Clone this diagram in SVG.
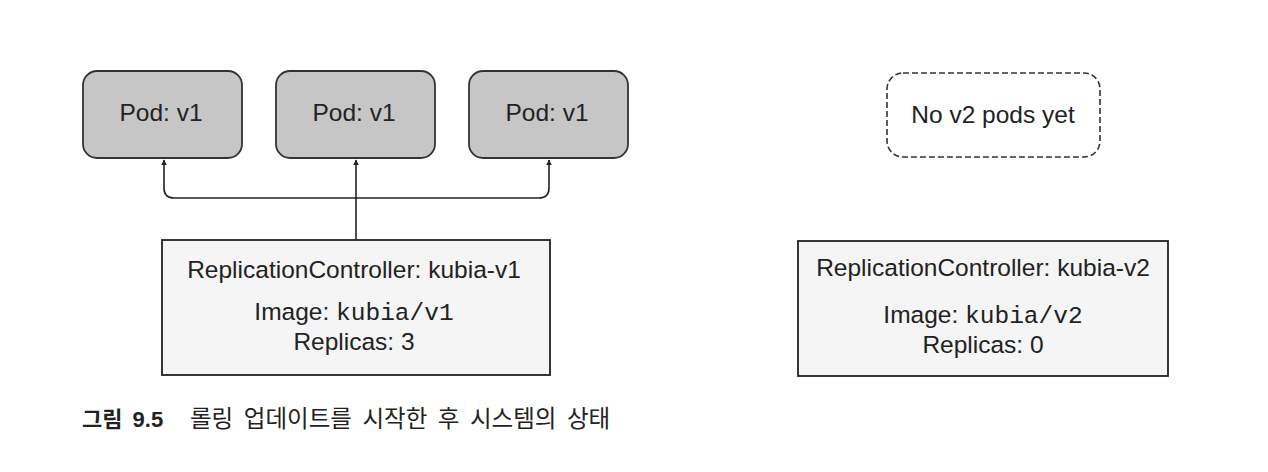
<svg xmlns="http://www.w3.org/2000/svg" width="1268" height="472" viewBox="0 0 1268 472">
<style>
.pod{fill:#c6c6c6;stroke:#333;stroke-width:1.8}
.dash{fill:#fff;stroke:#333;stroke-width:1.6;stroke-dasharray:6 3}
.rc{fill:#f5f5f5;stroke:#222;stroke-width:1.8}
.t{font-family:"Liberation Sans",Arial,sans-serif;font-size:24.5px;fill:#222;text-anchor:middle}
.m{font-family:"Liberation Mono","Courier New",monospace;font-size:24.5px}
.conn{fill:none;stroke:#222;stroke-width:1.6}
.cap{font-family:"Liberation Sans","Noto Sans CJK KR",sans-serif;font-size:23.5px;fill:#222;word-spacing:4px}
</style>
<defs>
<marker id="ah" viewBox="0 0 10 10" refX="9" refY="5" markerWidth="6" markerHeight="9" orient="auto" markerUnits="userSpaceOnUse">
<path d="M0,0 L10,5 L0,10 z" fill="#222"/>
</marker>
</defs>
<rect width="1268" height="472" fill="#fff"/>
<g id="pod1"><rect class="pod" x="83" y="71" width="159" height="87" rx="14"/><text class="t" x="161" y="121">Pod: v1</text></g>
<g id="pod2"><rect class="pod" x="276" y="71" width="159" height="87" rx="14"/><text class="t" x="354" y="121">Pod: v1</text></g>
<g id="pod3"><rect class="pod" x="469" y="71" width="159" height="87" rx="14"/><text class="t" x="547" y="121">Pod: v1</text></g>
<g id="nov2"><rect class="dash" x="887" y="73" width="213" height="84" rx="16"/><text class="t" x="993" y="123">No v2 pods yet</text></g>
<g id="rc1"><rect class="rc" x="162" y="240" width="388" height="135"/>
<text class="t" x="354" y="278">ReplicationController: kubia-v1</text>
<text class="t" x="354" y="320">Image: <tspan class="m">kubia/v1</tspan></text>
<text class="t" x="354" y="350">Replicas: 3</text></g>
<g id="rc2"><rect class="rc" x="798" y="241" width="370" height="135"/>
<text class="t" x="983" y="276">ReplicationController: kubia-v2</text>
<text class="t" x="983" y="323">Image: <tspan class="m">kubia/v2</tspan></text>
<text class="t" x="983" y="353">Replicas: 0</text></g>
<g id="connectors">
<path class="conn" d="M356,240 L356,160" marker-end="url(#ah)"/>
<path class="conn" d="M356,198 L174,198 Q164,198 164,188 L164,160" marker-end="url(#ah)"/>
<path class="conn" d="M356,198 L539,198 Q549,198 549,188 L549,160" marker-end="url(#ah)"/>
</g>
<text class="cap" y="427"><tspan x="82" font-weight="bold" font-size="22">그림 9.5</tspan><tspan x="190">롤링 업데이트를 시작한 후 시스템의 상태</tspan></text>
</svg>
